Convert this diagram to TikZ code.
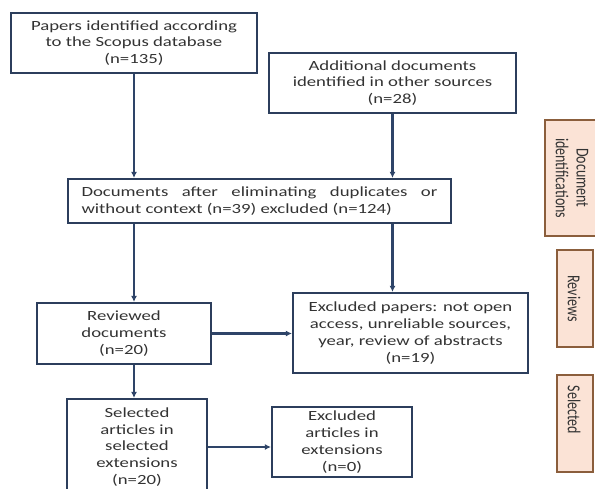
\documentclass[tikz,border=0pt]{standalone}
\usepackage{fontspec}
\setmainfont{Carlito}[FakeStretch=1.34]
\newfontfamily\tabfont{Carlito}
\usetikzlibrary{arrows.meta}
\definecolor{boxline}{HTML}{2C3E5C}
\definecolor{arrowc}{HTML}{2E4468}
\definecolor{tabfill}{HTML}{FBE3D6}
\definecolor{tabline}{HTML}{8B5E3C}
\definecolor{txt}{HTML}{333333}
\begin{document}
\begin{tikzpicture}[x=1pt,y=-1pt,
  box/.style={draw=boxline, line width=2.2pt, fill=white, text=txt, align=center, inner sep=0pt,
    font=\fontsize{14}{16.8}\selectfont},
  arr/.style={draw=arrowc, line width=2.2pt, -{Latex[length=6pt,width=6pt]}},
  tabbox/.style={draw=tabline, line width=1.6pt, fill=tabfill},
  tabtext/.style={rotate=-90, text=txt, align=center, inner sep=0pt, font=\tabfont\fontsize{14}{15}\selectfont}]
\useasboundingbox (0,0) rectangle (595,488);
\fill[white] (0,0) rectangle (595,488);

\node[box, minimum width=246, minimum height=60] (b1) at (134,43)
  {Papers identified according\\to the Scopus database\\(n=135)};
\node[box, minimum width=247, minimum height=60] (b2) at (392.5,83)
  {Additional documents\\identified in other sources\\(n=28)};
\node[box, minimum width=383, minimum height=44, text width=356, align=justify] (b3) at (259.5,201)
  {\tolerance=10000 Documents after eliminating duplicates or without context (n=39) excluded (n=124)};
\node[box, minimum width=174, minimum height=61] (b4) at (124,333.5)
  {Reviewed\\documents\\(n=20)};
\node[box, minimum width=235, minimum height=80] (b5) at (410.5,333)
  {Excluded papers: not open\\access, unreliable sources,\\year, review of abstracts\\(n=19)};
\node[box, minimum width=140, minimum height=96] (b6) at (137,447)
  {Selected\\articles in\\selected\\extensions\\(n=20)};
\node[box, minimum width=140, minimum height=70] (b7) at (342,442)
  {Excluded\\articles in\\extensions\\(n=0)};

\draw[arr] (b1.south) -- (b3.north -| b1.south);
\draw[arr] (b2.south) -- (b3.north -| b2.south);
\draw[arr] (b3.south -| b1.south) -- (b4.north -| b1.south);
\draw[arr] (b3.south -| b2.south) -- (b5.north -| b2.south);
\draw[arr] (b4.east) -- (b5.west |- b4.east);
\draw[arr] (b4.south -| b1.south) -- (b6.north -| b1.south);
\draw[arr] (b6.east) -- (b7.west |- b6.east);

% side tabs
\draw[tabbox] (545,120) rectangle (599,236);
\node[tabtext] (t1) at (572,178) {\scalebox{1}[1.3]{\parbox{80pt}{\centering Document\\[1pt]identifications}}};
\draw[tabbox] (557,250) rectangle (593,347);
\node[tabtext] (t2) at (574,298.5) {\scalebox{1}[1.3]{Reviews}};
\draw[tabbox] (557,375) rectangle (593,472);
\node[tabtext] (t3) at (574,410) {\scalebox{1}[1.3]{Selected}};
\end{tikzpicture}
\end{document}
